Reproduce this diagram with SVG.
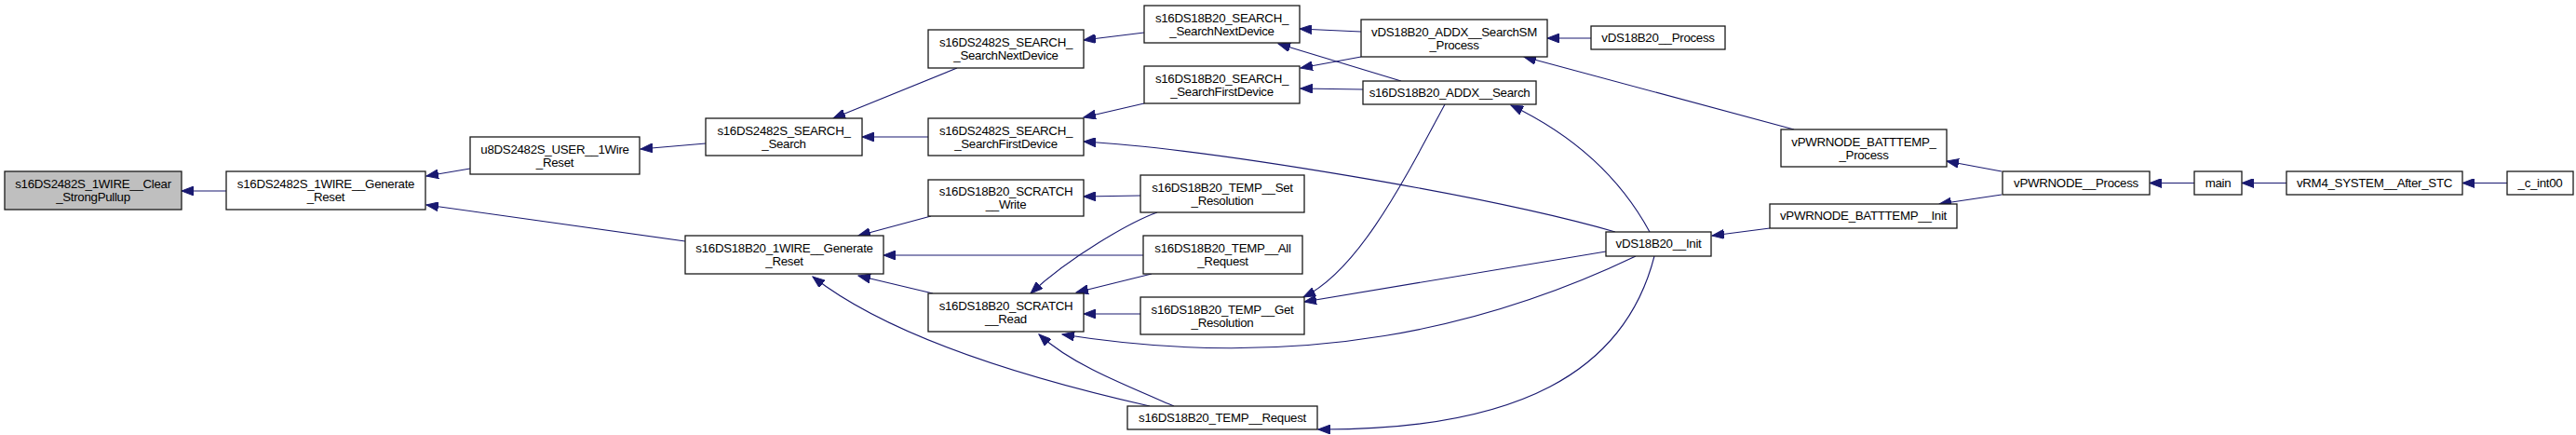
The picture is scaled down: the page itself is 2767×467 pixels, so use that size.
<svg xmlns="http://www.w3.org/2000/svg" width="2767" height="467" viewBox="0 0 2767 467">
<style>
.n rect{fill:#fff;stroke:#1a1a1a;stroke-width:1.3}
.n.f rect{fill:#bfbfbf}
.n text{font-family:"Liberation Sans",Arial,sans-serif;font-size:13.3px;letter-spacing:-0.3px;text-anchor:middle;fill:#000}
.e path{fill:none;stroke:#191970;stroke-width:1.1;marker-end:url(#ah)}
</style>
<defs>
<marker id="ah" markerUnits="userSpaceOnUse" markerWidth="14" markerHeight="10" refX="13" refY="5" orient="auto" viewBox="0 0 14 10">
<path d="M0,0 L13,5 L0,10 z" fill="#191970" stroke="#191970" stroke-width="1"/>
</marker>
</defs>
<rect width="2767" height="467" fill="#fff"/>
<g id="edges" class="e">
<path d="M243,205 L195,205"/>
<path d="M505,181 L458,189"/>
<path d="M736,259 L458,220"/>
<path d="M758,154 L688,160"/>
<path d="M1028,73 L895,127"/>
<path d="M997,147 L926,147"/>
<path d="M1229,35 L1164,43"/>
<path d="M1229,111 L1164,126"/>
<path d="M1735,249 C1600,210 1300,160 1164,152"/>
<path d="M1225,210 L1164,211"/>
<path d="M1000,232 L922,253"/>
<path d="M1243,228 C1215,238 1150,275 1107,315"/>
<path d="M1228,274 L949,274"/>
<path d="M1002,315 L922,296"/>
<path d="M1235,436 C1120,410 960,365 873,297"/>
<path d="M1237,294 L1156,314"/>
<path d="M1225,337 L1164,337"/>
<path d="M1757,275 C1600,350 1400,400 1141,359"/>
<path d="M1261,436 C1200,410 1150,390 1116,359"/>
<path d="M1462,34 L1396,31"/>
<path d="M1505,87 L1373,47"/>
<path d="M1462,61 L1397,73"/>
<path d="M1464,96 L1397,95"/>
<path d="M1709,41 L1662,41"/>
<path d="M1927,139 L1637,61"/>
<path d="M1552,112 C1510,190 1460,290 1400,319"/>
<path d="M1725,270 L1401,324"/>
<path d="M1772,249 C1740,190 1690,145 1623,113"/>
<path d="M1777,275 C1745,400 1630,462 1416,461"/>
<path d="M1901,245 L1839,253"/>
<path d="M2150,184 L2091,173"/>
<path d="M2150,209 L2083,219"/>
<path d="M2357,196.5 L2309,196.5"/>
<path d="M2456,196.5 L2408,196.5"/>
<path d="M2693,196.5 L2645,196.5"/>
</g>
<g id="n1" class="n f"><rect x="5" y="184" width="190" height="41"/><text x="100" y="202">s16DS2482S_1WIRE__Clear</text><text x="100" y="216">_StrongPullup</text></g>
<g id="n2" class="n"><rect x="243" y="184" width="214" height="41"/><text x="350" y="202">s16DS2482S_1WIRE__Generate</text><text x="350" y="216">_Reset</text></g>
<g id="n3" class="n"><rect x="505" y="147" width="182" height="40"/><text x="596" y="165">u8DS2482S_USER__1Wire</text><text x="596" y="179">_Reset</text></g>
<g id="n4" class="n"><rect x="758" y="127" width="168" height="40"/><text x="842" y="145">s16DS2482S_SEARCH_</text><text x="842" y="159">_Search</text></g>
<g id="n5" class="n"><rect x="997" y="32" width="167" height="41"/><text x="1080.5" y="50">s16DS2482S_SEARCH_</text><text x="1080.5" y="64">_SearchNextDevice</text></g>
<g id="n6" class="n"><rect x="997" y="127" width="167" height="40"/><text x="1080.5" y="145">s16DS2482S_SEARCH_</text><text x="1080.5" y="159">_SearchFirstDevice</text></g>
<g id="n7" class="n"><rect x="997" y="193" width="167" height="39"/><text x="1080.5" y="210">s16DS18B20_SCRATCH</text><text x="1080.5" y="224">__Write</text></g>
<g id="n8" class="n"><rect x="736" y="253" width="213" height="41"/><text x="842.5" y="271">s16DS18B20_1WIRE__Generate</text><text x="842.5" y="285">_Reset</text></g>
<g id="n9" class="n"><rect x="997" y="315" width="167" height="41"/><text x="1080.5" y="333">s16DS18B20_SCRATCH</text><text x="1080.5" y="347">__Read</text></g>
<g id="n10" class="n"><rect x="1229" y="6" width="167" height="40"/><text x="1312.5" y="24">s16DS18B20_SEARCH_</text><text x="1312.5" y="38">_SearchNextDevice</text></g>
<g id="n11" class="n"><rect x="1229" y="71" width="167" height="40"/><text x="1312.5" y="89">s16DS18B20_SEARCH_</text><text x="1312.5" y="103">_SearchFirstDevice</text></g>
<g id="n12" class="n"><rect x="1225" y="188" width="176" height="40"/><text x="1313" y="206">s16DS18B20_TEMP__Set</text><text x="1313" y="220">_Resolution</text></g>
<g id="n13" class="n"><rect x="1228" y="253" width="171" height="41"/><text x="1313.5" y="271">s16DS18B20_TEMP__All</text><text x="1313.5" y="285">_Request</text></g>
<g id="n14" class="n"><rect x="1225" y="319" width="176" height="40"/><text x="1313" y="337">s16DS18B20_TEMP__Get</text><text x="1313" y="351">_Resolution</text></g>
<g id="n15" class="n"><rect x="1211" y="436" width="204" height="25"/><text x="1313" y="453">s16DS18B20_TEMP__Request</text></g>
<g id="n16" class="n"><rect x="1462" y="21" width="200" height="40"/><text x="1562" y="39">vDS18B20_ADDX__SearchSM</text><text x="1562" y="53">_Process</text></g>
<g id="n17" class="n"><rect x="1464" y="87" width="186" height="25"/><text x="1557" y="104">s16DS18B20_ADDX__Search</text></g>
<g id="n18" class="n"><rect x="1709" y="28" width="144" height="25"/><text x="1781" y="45">vDS18B20__Process</text></g>
<g id="n19" class="n"><rect x="1725" y="249" width="113" height="26"/><text x="1781.5" y="266">vDS18B20__Init</text></g>
<g id="n20" class="n"><rect x="1913" y="139" width="178" height="40"/><text x="2002" y="157">vPWRNODE_BATTTEMP_</text><text x="2002" y="171">_Process</text></g>
<g id="n21" class="n"><rect x="1901" y="219" width="201" height="26"/><text x="2001.5" y="236">vPWRNODE_BATTTEMP__Init</text></g>
<g id="n22" class="n"><rect x="2151" y="184" width="158" height="25"/><text x="2230" y="201">vPWRNODE__Process</text></g>
<g id="n23" class="n"><rect x="2357" y="184" width="51" height="25"/><text x="2382.5" y="201">main</text></g>
<g id="n24" class="n"><rect x="2456" y="184" width="189" height="25"/><text x="2550.5" y="201">vRM4_SYSTEM__After_STC</text></g>
<g id="n25" class="n"><rect x="2693" y="184" width="71" height="25"/><text x="2728.5" y="201">_c_int00</text></g>
</svg>
